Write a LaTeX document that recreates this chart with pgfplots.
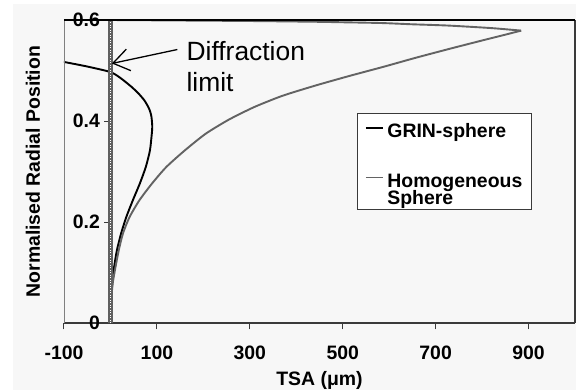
\documentclass[border=0pt]{standalone}
\usepackage{pgfplots}
\pgfplotsset{compat=1.18}
\usepackage{fontspec}
\setmainfont{Liberation Sans}
\usetikzlibrary{arrows.meta}
\definecolor{bgc}{HTML}{F7F7F7}
\definecolor{homc}{HTML}{636363}
\definecolor{framec}{HTML}{3A3A3A}
\begin{document}
\begin{tikzpicture}
\path[use as bounding box] (-64bp,-66.7bp) rectangle (512bp,323.3bp);
\fill[bgc] (-50.7bp,-66.7bp) rectangle (512bp,319.3bp);
\begin{axis}[
  scale only axis,
  width=511bp, height=303.3bp,
  xmin=-100, xmax=1000, ymin=0, ymax=0.6,
  axis x line*=bottom,
  axis y line*=center,
  hide obscured x ticks=false,
  hide obscured y ticks=false,
  x axis line style={line width=1.8bp, color=framec},
  y axis line style={draw=none},
  xtick={-100,100,300,500,700,900},
  xticklabels={-100,100,300,500,700,900},
  ytick={0,0.2,0.4,0.6},
  yticklabels={0,0.2,0.4,0.6},
  xtick align=outside,
  ytick align=outside,
  major tick length=6bp,
  every tick/.style={draw=framec, line width=1bp},
  ticklabel style={font=\fontsize{19.5}{22}\selectfont\bfseries},
  xticklabel style={yshift=-13bp},
  yticklabel style={anchor=east, xshift=-1bp},
  clip mode=individual,
  xlabel={TSA (μm)},
  ylabel={Normalised Radial Position},
  label style={font=\fontsize{19.5}{22}\selectfont\bfseries},
  xlabel style={at={(axis description cs:0.5,-0.187)}, anchor=center},
  ylabel style={at={(axis description cs:-0.0607,0.5)}, anchor=center},
  legend cell align=left,
  legend style={at={(0.573,0.693)}, anchor=north west, draw=framec, fill=white,
    font=\fontsize{19.5}{19}\selectfont\bfseries, row sep=0bp,
    nodes={inner sep=0.5bp}, column sep=3bp,
    inner xsep=8bp, inner ysep=3bp},
]
\addplot[black, line width=1.9bp, smooth, tension=0.4] coordinates {
(0,0) (0.5,0.02) (1.5,0.046) (4,0.08) (8,0.112) (14,0.145) (23,0.178) (34,0.21)
(48,0.243) (63,0.276) (76,0.309) (85,0.342) (89,0.375) (90,0.39) (88,0.41)
(83,0.425) (73,0.441) (60,0.455) (45,0.468) (22,0.485) (0,0.497) (-50,0.508)
(-100,0.517) (-130,0.522)
};
\addlegendentry{\rule[-6.5bp]{0pt}{27bp}GRIN-sphere}
\addlegendimage{empty legend}
\addlegendentry{\rule{0pt}{23.4bp}}
\addplot[homc, line width=1.9bp, smooth, tension=0.4] coordinates {
(0,0) (0.5,0.02) (2,0.05) (5,0.08) (11,0.112) (18,0.145) (27,0.178) (41,0.21)
(62,0.243) (89,0.276) (120,0.309) (160,0.342) (205,0.375) (255,0.403) (310,0.428)
(370,0.45) (440,0.47) (513,0.489) (590,0.508) (656,0.525) (730,0.543)
(798,0.559) (850,0.571) (884,0.579)
};
\addlegendentry{\rule[-8.1bp]{0pt}{30.2bp}Homogeneous}
\addlegendimage{empty legend}
\addlegendentry{Sphere}
\addplot[homc, line width=1.9bp, smooth, tension=0.4, forget plot] coordinates {
(884,0.579) (820,0.584) (727,0.589) (650,0.5915) (584,0.594) (500,0.5955)
(441,0.5965) (300,0.598) (150,0.599) (0,0.6)
};
\draw[line width=4.2bp, color=gray!75!black] (axis cs:0,0) -- (axis cs:0,0.6);
\draw[line width=1.4bp, white, dash pattern=on 1bp off 1.5bp] (axis cs:0,0) -- (axis cs:0,0.6);
\draw[color=gray, line width=0.9bp] (rel axis cs:0,0) -- (rel axis cs:0,1);
\draw[color=framec, line width=1.3bp] (rel axis cs:1,1) -- (rel axis cs:1,0);
\draw[black, line width=2.2bp] (rel axis cs:0,1) -- (rel axis cs:1,1);
\draw[black, line width=1.3bp, -{Straight Barb[length=16bp,width=22bp]}] (axis cs:144,0.5416) -- (axis cs:3,0.514);
\node[anchor=base west, inner sep=0pt, font=\fontsize{26.5}{31}\selectfont] at (axis cs:163.5,0.52) {Diffraction};
\node[anchor=base west, inner sep=0pt, font=\fontsize{26.5}{31}\selectfont] at (axis cs:163.5,0.4586) {limit};
\end{axis}
\end{tikzpicture}
\end{document}
